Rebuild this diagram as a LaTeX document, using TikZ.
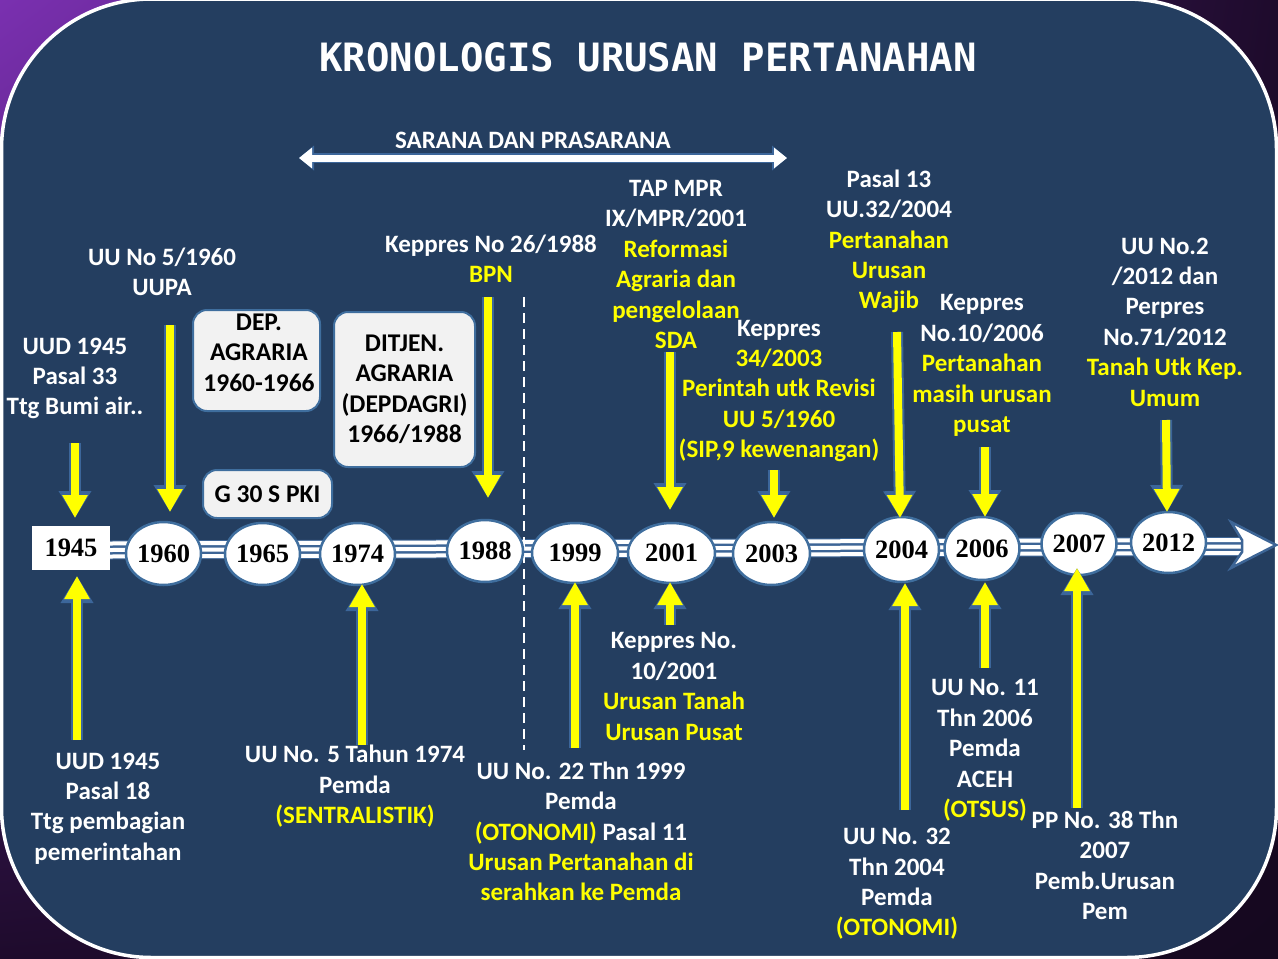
\documentclass[tikz,border=0pt]{standalone}
\usepackage{fontspec}
\setmainfont{Carlito}
\newfontfamily\titlefont{DejaVu Sans Mono}
\newfontfamily\yearfont{Liberation Serif}
\usetikzlibrary{shapes.geometric,arrows.meta,shadings}
\definecolor{navy}{HTML}{243E60}
\definecolor{ylw}{HTML}{FFFF00}
\definecolor{ebord}{HTML}{3F6E9E}
\definecolor{glow}{HTML}{3C669A}
\definecolor{boxgray}{HTML}{F2F2F2}
\definecolor{purp}{HTML}{7A30B0}
\definecolor{dpurp}{HTML}{1E0B2C}
\definecolor{bandblue}{HTML}{3D6596}
\newcommand{\yl}[1]{\textcolor{ylw}{#1}}
\begin{document}
\begin{tikzpicture}[x=1pt,y=-1pt,
  wt/.style={text=white, font=\bfseries\fontsize{25}{30.4}\selectfont, align=center, inner sep=0pt},
  yearfont/.style={font=\yearfont\bfseries\fontsize{26.5}{30}\selectfont},
  yearnode/.style={ellipse, fill=white, draw=ebord, line width=2.5pt, inner sep=0pt, yearfont},
  boxnode/.style={rectangle, rounded corners=14pt, fill=boxgray, draw=ebord, line width=2pt,
     font=\bfseries\fontsize{25.5}{30.5}\selectfont, align=center, inner sep=0pt},
  boxtext/.style={font=\bfseries\fontsize{25.5}{30.5}\selectfont, align=center, inner sep=0pt},
  yarr/.style={draw=ylw, line width=8pt, -{Triangle[length=23pt,width=24pt]},
     preaction={draw=glow, line width=12pt, -{Triangle[length=27pt,width=31pt]}}},
  warr/.style={draw=white, line width=7pt, {Triangle[length=13pt,width=20pt]}-{Triangle[length=13pt,width=20pt]},
     preaction={draw=glow, line width=10pt, {Triangle[length=15pt,width=24pt]}-{Triangle[length=15pt,width=24pt]}}}
]
\useasboundingbox (0,0) rectangle (1278,959);
\shade[upper left=purp, upper right=dpurp, lower left=dpurp, lower right=dpurp!70!black] (0,0) rectangle (1278,959);
\draw[draw=white, line width=3.5pt, fill=navy, rounded corners=150pt] (1.5,-1) rectangle (1276.5,957.5);

% title and sarana
\node[font=\titlefont\bfseries\fontsize{39}{40}\selectfont, text=white, inner sep=0pt] (title) at (648,57) {KRONOLOGIS URUSAN PERTANAHAN};
\node[wt] (sar) at (533,140) {SARANA DAN PRASARANA};
\coordinate (sl) at (299,158);
\coordinate (sr) at (787,158);
\draw[warr] (sl) -- (sr);

% timeline band
\coordinate (bl) at (110,550);
\coordinate (br) at (1242,546.5);
\draw[bandblue, line width=19pt] (bl) -- (br);
\foreach \o in {-6.5,0,6.5}
  \draw[white, line width=4pt, transform canvas={yshift=\o pt}] (bl) -- (br);
\path[fill=white, draw=bandblue, line width=2.5pt] (1231,522) -- (1276,545) -- (1231,568) -- (1242,552) -- (1242,540) -- cycle;

% dashed line
\coordinate (dt) at (524,297);
\coordinate (db) at (524,750);
\draw[white, line width=2.5pt, dash pattern=on 10pt off 6pt] (dt) -- (db);

% year nodes
\node[rectangle, fill=white, inner sep=0pt, minimum width=78pt, minimum height=44pt, yearfont] (y1945) at (71,548) {1945};
\node[yearnode, minimum width=75pt, minimum height=63pt] (y1960) at (163.5,553.5) {1960};
\node[yearnode, minimum width=75pt, minimum height=62pt] (y1965) at (262.5,554) {1965};
\node[yearnode, minimum width=75pt, minimum height=62pt] (y1974) at (357.5,554) {1974};
\node[yearnode, minimum width=76pt, minimum height=62pt] (y1988) at (485,551) {1988};
\node[yearnode, minimum width=86pt, minimum height=60pt] (y1999) at (575,553) {1999};
\node[yearnode, minimum width=87pt, minimum height=60pt] (y2001) at (671.5,553) {2001};
\node[yearnode, minimum width=77pt, minimum height=63pt] (y2003) at (771.5,553.5) {2003};
\node[yearnode, minimum width=75pt, minimum height=65pt] (y2004) at (901.5,549.5) {2004};
\node[yearnode, minimum width=70pt, minimum height=63pt] (y2006) at (982,548.5) {2006};
\node[yearnode, minimum width=72pt, minimum height=62pt] (y2007) at (1079,544) {2007};
\node[yearnode, minimum width=73pt, minimum height=61pt] (y2012) at (1168.5,542.5) {2012};

% boxes
\node[boxnode, minimum width=127pt, minimum height=101pt] (bdep) at (256.5,360.5) {};
\node[boxtext] (bdeptext) at (259,352.5) {DEP.\\AGRARIA\\1960-1966};
\node[boxnode, minimum width=141pt, minimum height=155pt] (bdit) at (404.5,389.5) {DITJEN.\\AGRARIA\\(DEPDAGRI)\\1966/1988};
\node[boxnode, minimum width=129pt, minimum height=48pt] (bg30) at (267.5,494) {G 30 S PKI};

% texts above
\node[wt] (t1960) at (162,272) {UU No 5/1960\\UUPA};
\node[wt] (t1945a) at (75,378.5) {UUD 1945\\Pasal 33\\Ttg Bumi air..};
\node[wt] (t1988) at (491,259) {Keppres No 26/1988\\\yl{BPN}};
\node[wt] (t2001a) at (676,264.5) {TAP MPR\\IX/MPR/2001\\\yl{Reformasi}\\\yl{Agraria dan}\\\yl{pengelolaan}\\\yl{SDA}};
\node[wt] (t2003) at (779,391) {Keppres\\\yl{34/2003}\\\yl{Perintah utk Revisi}\\\yl{UU 5/1960}\\\yl{(SIP,9 kewenangan)}};
\node[wt] (t2004a) at (889,241.5) {Pasal 13\\UU.32/2004\\\yl{Pertanahan}\\\yl{Urusan}\\\yl{Wajib}};
\node[wt] (t2006a) at (982,365.5) {Keppres\\No.10/2006\\\yl{Pertanahan}\\\yl{masih urusan}\\\yl{pusat}};
\node[wt] (t2012) at (1165,322) {UU No.2\\/2012 dan\\Perpres\\No.71/2012\\\yl{Tanah Utk Kep.}\\\yl{Umum}};

% texts below
\node[wt] (t1945b) at (108,808.5) {UUD 1945\\Pasal 18\\Ttg pembagian\\pemerintahan};
\node[wt] (t1974) at (355,786.5) {UU No. 5 Tahun 1974\\Pemda\\\yl{(SENTRALISTIK)}};
\node[wt] (t1999) at (581,831.5) {UU No. 22 Thn 1999\\Pemda\\\yl{(OTONOMI)} Pasal 11\\\yl{Urusan Pertanahan di}\\\yl{serahkan ke Pemda}};
\node[wt] (t2001b) at (674,686.5) {Keppres No.\\10/2001\\\yl{Urusan Tanah}\\\yl{Urusan Pusat}};
\node[wt] (t2006b) at (985,750.5) {UU No. 11\\Thn 2006\\Pemda\\ACEH\\\yl{(OTSUS)}};
\node[wt] (t2004b) at (897,884) {UU No. 32\\Thn 2004\\Pemda\\\yl{(OTONOMI)}};
\node[wt] (t2007) at (1105,865.5) {PP No. 38 Thn\\2007\\Pemb.Urusan\\Pem};

% arrows down
\coordinate (a1s) at (75,443);   \coordinate (a1e) at (75,518);
\coordinate (a2s) at (170,325);  \coordinate (a2e) at (170,512);
\coordinate (a3s) at (488,297);  \coordinate (a3e) at (488,498);
\coordinate (a4s) at (670,352);  \coordinate (a4e) at (670,510);
\coordinate (a5s) at (774,470);  \coordinate (a5e) at (774,518);
\coordinate (a6s) at (897,332);  \coordinate (a6e) at (900,518);
\coordinate (a7s) at (985,447);  \coordinate (a7e) at (985,517);
\coordinate (a8s) at (1166,420); \coordinate (a8e) at (1167,512);
\foreach \i in {1,...,8} \draw[yarr] (a\i s) -- (a\i e);

% arrows up
\coordinate (b1s) at (77,740);   \coordinate (b1e) at (77,576);
\coordinate (b2s) at (362,745);  \coordinate (b2e) at (362,584);
\coordinate (b3s) at (575,748);  \coordinate (b3e) at (575,582);
\coordinate (b4s) at (670,625);  \coordinate (b4e) at (670,582);
\coordinate (b5s) at (905,810);  \coordinate (b5e) at (905,583);
\coordinate (b6s) at (985,668);  \coordinate (b6e) at (985,582);
\coordinate (b7s) at (1077,808); \coordinate (b7e) at (1077,568);
\foreach \i in {1,...,7} \draw[yarr] (b\i s) -- (b\i e);
\end{tikzpicture}
\end{document}
